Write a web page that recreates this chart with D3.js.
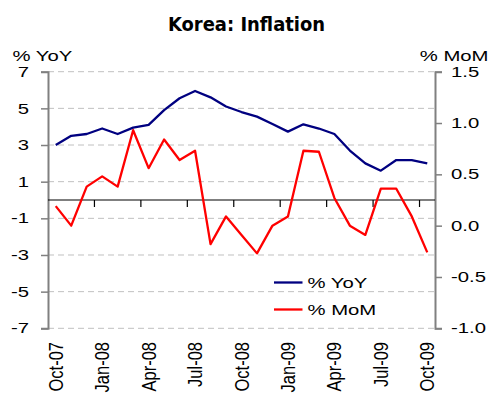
<!DOCTYPE html>
<html>
<head>
<meta charset="utf-8">
<script src="https://cdn.jsdelivr.net/npm/d3@7"></script>
<style>
  body { margin: 0; background: #fff; }
  svg text { font-family: "Liberation Sans", Arial, sans-serif; fill: #000; }
</style>
</head>
<body>
<script>
// data
const months = ["Oct-07","Nov-07","Dec-07","Jan-08","Feb-08","Mar-08","Apr-08","May-08","Jun-08",
                "Jul-08","Aug-08","Sep-08","Oct-08","Nov-08","Dec-08","Jan-09","Feb-09","Mar-09",
                "Apr-09","May-09","Jun-09","Jul-09","Aug-09","Sep-09","Oct-09"];
const yoy = [3.0, 3.5, 3.6, 3.9, 3.6, 3.95, 4.1, 4.9, 5.55, 5.95, 5.6, 5.1, 4.8, 4.55, 4.15,
             3.73, 4.13, 3.9, 3.6, 2.7, 2.0, 1.6, 2.18, 2.18, 2.0];
const mom = [0.19, 0.0, 0.38, 0.48, 0.38, 0.93, 0.56, 0.84, 0.64, 0.73, -0.18, 0.09, -0.09, -0.27,
             0.0, 0.09, 0.73, 0.72, 0.27, 0.0, -0.09, 0.36, 0.36, 0.09, -0.26];
const leftTicks = [-7, -5, -3, -1, 1, 3, 5, 7];
const rightTicks = [-1.0, -0.5, 0.0, 0.5, 1.0, 1.5];

const width = 490, height = 401;
const plot = {left: 48, right: 435, top: 71.7, bottom: 328.3};
const sx = 1.4;   // the original text is wide, so stretch it sideways
const fs = "14.5px";

const svg = d3.select("body").append("svg")
    .attr("width", width)
    .attr("height", height);

const x = d3.scaleBand()
    .domain(months)
    .range([plot.left, plot.right])
    .padding(0);

const yL = d3.scaleLinear().domain([-7, 7]).range([plot.bottom, plot.top]);
const yR = d3.scaleLinear().domain([-1, 1.5]).range([plot.bottom, plot.top]);

// stretched text helper
function wideText(g, tx, ty, str, anchor) {
    return g.append("text")
        .attr("transform", `translate(${tx},${ty}) scale(${sx},1)`)
        .style("text-anchor", anchor || "start")
        .style("font-size", fs)
        .text(str);
}

// gridlines
svg.append("g")
    .selectAll("line")
    .data(leftTicks)
    .join("line")
    .attr("x1", plot.left)
    .attr("x2", plot.right)
    .attr("y1", d => yL(d))
    .attr("y2", d => yL(d))
    .attr("stroke", "#c0c0c0")
    .attr("stroke-width", 1)
    .attr("stroke-dasharray", "6,4");

// left axis
const leftAxis = svg.append("g")
    .attr("transform", `translate(${plot.left},0)`)
    .call(d3.axisLeft(yL).tickValues(leftTicks).tickSize(7).tickFormat(d => String(d)));
leftAxis.select(".domain").attr("stroke", "#808080").attr("stroke-width", 2);
leftAxis.selectAll(".tick line").attr("stroke", "#808080").attr("stroke-width", 1.5);
leftAxis.selectAll(".tick text")
    .attr("x", -19 / sx)
    .attr("transform", `scale(${sx},1)`)
    .style("font-size", fs);

// right axis
const rightAxis = svg.append("g")
    .attr("transform", `translate(${plot.right},0)`)
    .call(d3.axisRight(yR).tickValues(rightTicks).tickSize(7).tickFormat(d => d3.format(".1f")(d).replace("−", "-")));
rightAxis.select(".domain").attr("stroke", "#808080").attr("stroke-width", 2);
rightAxis.selectAll(".tick line").attr("stroke", "#808080").attr("stroke-width", 1.5);
rightAxis.selectAll(".tick text")
    .attr("x", 16 / sx)
    .attr("transform", `scale(${sx},1)`)
    .style("font-size", fs);

// zero line with category ticks
svg.append("line")
    .attr("x1", plot.left)
    .attr("x2", plot.right)
    .attr("y1", yL(0))
    .attr("y2", yL(0))
    .attr("stroke", "#000")
    .attr("stroke-width", 1.2);

const tickMonths = months.filter((m, i) => i > 0 && i % 3 === 0);
svg.append("g")
    .selectAll("line")
    .data(tickMonths)
    .join("line")
    .attr("x1", d => x(d))
    .attr("x2", d => x(d))
    .attr("y1", yL(0))
    .attr("y2", yL(0) + 7)
    .attr("stroke", "#000")
    .attr("stroke-width", 1.2);

// month labels
const labelMonths = months.filter((m, i) => i % 3 === 0);
svg.append("g")
    .selectAll("text")
    .data(labelMonths)
    .join("text")
    .attr("transform", d => `translate(${x(d) + x.bandwidth() / 2},342) rotate(-90) scale(1.1,1.3)`)
    .attr("dy", "0.36em")
    .style("text-anchor", "end")
    .style("font-size", "15px")
    .text(d => d);

// lines
const lineYoY = d3.line()
    .x((d, i) => x(months[i]) + x.bandwidth() / 2)
    .y(d => yL(d));
const lineMoM = d3.line()
    .x((d, i) => x(months[i]) + x.bandwidth() / 2)
    .y(d => yR(d));

svg.append("path")
    .datum(mom)
    .attr("d", lineMoM)
    .attr("fill", "none")
    .attr("stroke", "#ff0000")
    .attr("stroke-width", 2.3)
    .attr("stroke-linejoin", "round");

svg.append("path")
    .datum(yoy)
    .attr("d", lineYoY)
    .attr("fill", "none")
    .attr("stroke", "#000080")
    .attr("stroke-width", 2.3)
    .attr("stroke-linejoin", "round");

// title and axis names
svg.append("text")
    .attr("transform", "translate(246.5,31) scale(0.945,1)")
    .style("text-anchor", "middle")
    .style("font-family", "'DejaVu Sans', Verdana, sans-serif")
    .style("font-weight", "bold")
    .style("font-size", "19px")
    .text("Korea: Inflation");

wideText(svg, 12.5, 60.5, "% YoY");
wideText(svg, 488.5, 60.5, "% MoM", "end");

// legend
const legendItems = [
    {name: "% YoY", color: "#000080"},
    {name: "% MoM", color: "#ff0000"}
];
const legend = svg.append("g");
legendItems.forEach((d, i) => {
    const ly = 282.5 + i * 27;
    legend.append("line")
        .attr("x1", 274).attr("x2", 302.5)
        .attr("y1", ly).attr("y2", ly)
        .attr("stroke", d.color)
        .attr("stroke-width", 2.3);
    wideText(legend, 307.5, ly + 5.2, d.name);
});
</script>
</body>
</html>
